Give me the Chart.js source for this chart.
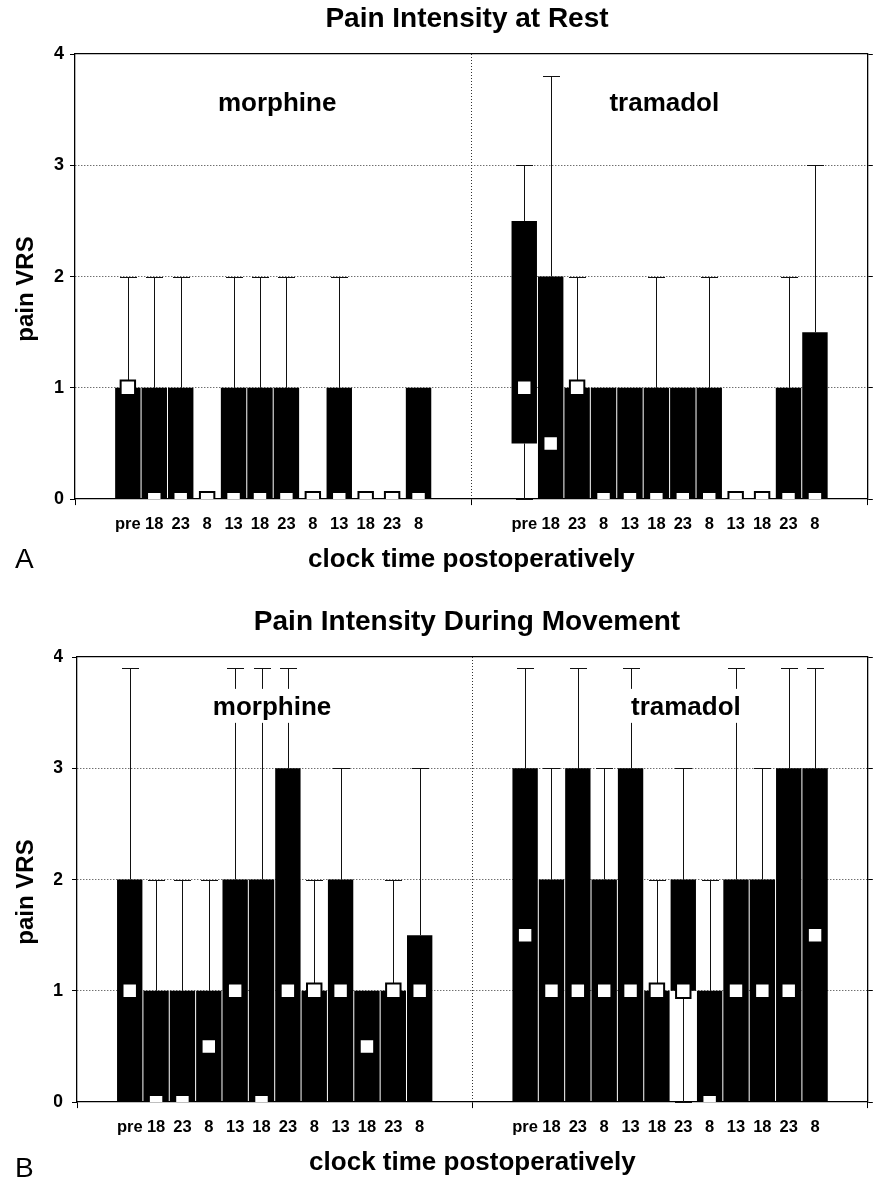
<!DOCTYPE html>
<html>
<head>
<meta charset="utf-8">
<script src="https://cdn.jsdelivr.net/npm/chart.js@4.4.0/dist/chart.umd.min.js"></script>
<style>
html, body { margin: 0; padding: 0; background: #fff; }
.panel { width: 880px; height: 590px; position: relative; }
canvas { display: block; }
</style>
</head>
<body>
<div class="panel"><canvas id="chartA" width="880" height="590"></canvas></div>
<div class="panel"><canvas id="chartB" width="880" height="590"></canvas></div>
<script>
// ---------------- data ----------------
const timeLabels = ['pre', '18', '23', '8', '13', '18', '23', '8', '13', '18', '23', '8'];
const groupNames = ['morphine', 'tramadol'];
const yTickLabels = ['0', '1', '2', '3', '4'];

// Panel A: pain intensity at rest (box = q1..q3, whisker = min..max, square = median)
const restMorphineQ1     = [0, 0, 0, 0, 0, 0, 0, 0, 0, 0, 0, 0];
const restMorphineQ3     = [1, 1, 1, 0, 1, 1, 1, 0, 1, 0, 0, 1];
const restMorphineMedian = [1, 0, 0, 0, 0, 0, 0, 0, 0, 0, 0, 0];
const restMorphineMax    = [2, 2, 2, 0, 2, 2, 2, 0, 2, 0, 0, 1];
const restMorphineMin    = [0, 0, 0, 0, 0, 0, 0, 0, 0, 0, 0, 0];

const restTramadolQ1     = [0.5, 0, 0, 0, 0, 0, 0, 0, 0, 0, 0, 0];
const restTramadolQ3     = [2.5, 2, 1, 1, 1, 1, 1, 1, 0, 0, 1, 1.5];
const restTramadolMedian = [1, 0.5, 1, 0, 0, 0, 0, 0, 0, 0, 0, 0];
const restTramadolMax    = [3, 3.8, 2, 1, 1, 2, 1, 2, 0, 0, 2, 3];
const restTramadolMin    = [0, 0, 0, 0, 0, 0, 0, 0, 0, 0, 0, 0];

// Panel B: pain intensity during movement
const moveMorphineQ1     = [0, 0, 0, 0, 0, 0, 0, 0, 0, 0, 0, 0];
const moveMorphineQ3     = [2, 1, 1, 1, 2, 2, 3, 1, 2, 1, 1, 1.5];
const moveMorphineMedian = [1, 0, 0, 0.5, 1, 0, 1, 1, 1, 0.5, 1, 1];
const moveMorphineMax    = [3.9, 2, 2, 2, 3.9, 3.9, 3.9, 2, 3, 1, 2, 3];
const moveMorphineMin    = [0, 0, 0, 0, 0, 0, 0, 0, 0, 0, 0, 0];

const moveTramadolQ1     = [0, 0, 0, 0, 0, 0, 1, 0, 0, 0, 0, 0];
const moveTramadolQ3     = [3, 2, 3, 2, 3, 1, 2, 1, 2, 2, 3, 3];
const moveTramadolMedian = [1.5, 1, 1, 1, 1, 1, 1, 0, 1, 1, 1, 1.5];
const moveTramadolMax    = [3.9, 3, 3.9, 3, 3.9, 2, 3, 2, 3.9, 3, 3.9, 3.9];
const moveTramadolMin    = [0, 0, 0, 0, 0, 0, 0, 0, 0, 0, 0, 0];

// ---------------- layout helpers ----------------
const SANS = "'Liberation Sans', Arial, Helvetica, sans-serif";
const SLOTS_PER_GROUP = 15;
const LEAD_SLOTS = 2;
const slotOf = (g, i) => g * SLOTS_PER_GROUP + LEAD_SLOTS + i;
const TOTAL_SLOTS = SLOTS_PER_GROUP * 2;

function labelForSlot(v) {
  for (let g = 0; g < 2; g++) {
    const i = v - slotOf(g, 0);
    if (i >= 0 && i < timeLabels.length && Number.isInteger(i)) return timeLabels[i];
  }
  return '';
}

function makeDecorPlugin(groups, d) {
  return {
    id: 'panelDecor',
    beforeDatasetsDraw(chart) {
      const ctx = chart.ctx, x = chart.scales.x, y = chart.scales.y;
      ctx.save();
      ctx.strokeStyle = '#111';
      ctx.lineWidth = 1;
      groups.forEach((grp, g) => {
        grp.q3.forEach((_, i) => {
          const px = Math.round(x.getPixelForValue(slotOf(g, i))) + 0.5;
          const seg = (from, to) => {
            const y1 = y.getPixelForValue(from);
            const y2 = Math.round(y.getPixelForValue(to)) + 0.5;
            ctx.beginPath();
            ctx.moveTo(px, y1); ctx.lineTo(px, y2);
            ctx.moveTo(px - 8.5, y2); ctx.lineTo(px + 8.5, y2);
            ctx.stroke();
          };
          if (grp.max[i] > grp.q3[i]) seg(grp.q3[i], grp.max[i]);
          if (grp.min[i] < grp.q1[i]) seg(grp.q1[i], grp.min[i]);
        });
      });
      ctx.restore();
    },
    afterDatasetsDraw(chart) {
      const ctx = chart.ctx, x = chart.scales.x, y = chart.scales.y;
      ctx.save();
      ctx.font = 'bold 26px ' + SANS;
      ctx.textAlign = 'center';
      ctx.textBaseline = 'alphabetic';
      groupNames.forEach((name, g) => {
        const cx = x.getPixelForValue(d.labelSlots[g]);
        const by = y.getPixelForValue(d.labelValue);
        if (d.knockout) {
          const w = ctx.measureText(name).width;
          ctx.fillStyle = '#fff';
          ctx.fillRect(cx - w / 2 - 3, by - 26, w + 6, 34);
        }
        ctx.fillStyle = '#000';
        ctx.fillText(name, cx, by);
      });
      ctx.restore();
    },
    afterDraw(chart) {
      const ctx = chart.ctx;
      ctx.save();
      ctx.fillStyle = '#000';
      ctx.translate(d.yTitleX, d.yTitleY);
      ctx.rotate(-Math.PI / 2);
      ctx.font = 'bold 24px ' + SANS;
      ctx.textAlign = 'center';
      ctx.textBaseline = 'alphabetic';
      ctx.fillText('pain VRS', 0, 0);
      ctx.restore();
      ctx.save();
      ctx.fillStyle = '#000';
      ctx.font = '28px ' + SANS;
      ctx.textAlign = 'left';
      ctx.textBaseline = 'alphabetic';
      ctx.fillText(d.letter, 15, d.letterY);
      ctx.restore();
    }
  };
}

function buildChart(canvasId, title, groups, d) {
  const bars = [];
  const medians = [];
  groups.forEach((grp, g) => {
    grp.q3.forEach((q3, i) => {
      if (q3 > grp.q1[i]) bars.push({ x: slotOf(g, i), y: [grp.q1[i], q3] });
      medians.push({ x: slotOf(g, i), y: grp.median[i] });
    });
  });

  const transparent = 'rgba(0,0,0,0)';
  return new Chart(document.getElementById(canvasId), {
    type: 'bar',
    data: {
      datasets: [
        {
          type: 'line',
          label: 'median',
          data: medians,
          showLine: false,
          pointStyle: 'rect',
          pointRadius: 10.2,
          pointHoverRadius: 10.2,
          pointBackgroundColor: '#fff',
          pointBorderColor: '#000',
          pointBorderWidth: 2,
          clip: 0,
          order: 0
        },
        {
          type: 'bar',
          label: 'interquartile range',
          data: bars,
          backgroundColor: '#000',
          borderWidth: 0,
          barPercentage: 0.962,
          categoryPercentage: 1,
          order: 1
        }
      ]
    },
    options: {
      responsive: false,
      animation: false,
      events: [],
      layout: { padding: { left: 54, right: 0, top: 0, bottom: d.padBottom } },
      plugins: {
        legend: { display: false },
        tooltip: { enabled: false },
        title: {
          display: true,
          text: title,
          color: '#000',
          font: { family: SANS, size: 28, weight: 'bold' },
          padding: { top: d.titleTop, bottom: d.titleBottom }
        }
      },
      scales: {
        x: {
          type: 'linear',
          position: 'bottom',
          min: 0,
          max: TOTAL_SLOTS,
          offset: false,
          afterBuildTicks: (s) => {
            const t = [];
            for (let k = 0; k <= TOTAL_SLOTS; k++) t.push({ value: k });
            s.ticks = t;
          },
          ticks: {
            autoSkip: false,
            maxRotation: 0,
            minRotation: 0,
            padding: 9.7,
            color: '#000',
            font: { family: SANS, size: 16.5, weight: 'bold' },
            callback: (v) => labelForSlot(v)
          },
          grid: {
            offset: false,
            lineWidth: 1,
            color: (c) => (c.tick && c.tick.value === SLOTS_PER_GROUP) ? '#333' : transparent,
            tickColor: (c) => (c.tick && c.tick.value % SLOTS_PER_GROUP === 0) ? '#000' : transparent,
            tickLength: 6
          },
          border: { display: true, color: '#000', width: 1.3, dash: [1, 2] },
          title: {
            display: true,
            text: 'clock time postoperatively',
            color: '#000',
            font: { family: SANS, size: 26, weight: 'bold' },
            padding: { top: 0.3, bottom: 0 }
          }
        },
        x2: {
          type: 'linear',
          position: 'top',
          min: 0,
          max: TOTAL_SLOTS,
          offset: false,
          ticks: { display: false },
          grid: { offset: false, drawOnChartArea: false, drawTicks: false },
          border: { display: true, color: '#000', width: 1.3 },
          afterFit: (s) => { s.height = 0; }
        },
        y: {
          type: 'linear',
          position: 'left',
          min: 0,
          max: 4,
          afterFit: (s) => { s.width = d.yWidth; },
          ticks: {
            stepSize: 1,
            padding: d.yTickPad,
            color: '#000',
            font: { family: SANS, size: 18, weight: 'bold' },
            callback: (v) => yTickLabels[v] !== undefined ? yTickLabels[v] : ''
          },
          grid: {
            lineWidth: 1,
            color: (c) => (c.tick && c.tick.value > 0 && c.tick.value < 4) ? '#333' : transparent,
            tickColor: '#000',
            tickLength: 5
          },
          border: { display: true, color: '#000', width: 1.3, dash: [1, 2] }
        },
        y2: {
          type: 'linear',
          position: 'right',
          min: 0,
          max: 4,
          afterFit: (s) => { s.width = d.rightWidth; },
          ticks: { display: false, stepSize: 1 },
          grid: { drawOnChartArea: false, tickColor: '#000', tickLength: 5 },
          border: { display: true, color: '#000', width: 1.3 }
        }
      }
    },
    plugins: [makeDecorPlugin(groups, d)]
  });
}

buildChart('chartA', 'Pain Intensity at Rest', [
  { q1: restMorphineQ1, q3: restMorphineQ3, median: restMorphineMedian, max: restMorphineMax, min: restMorphineMin },
  { q1: restTramadolQ1, q3: restTramadolQ3, median: restTramadolMedian, max: restTramadolMax, min: restTramadolMin }
], {
  padBottom: 14.2, titleTop: 2.4, titleBottom: 18, yWidth: 21, yTickPad: 6, rightWidth: 7,
  labelSlots: [7.65, 22.3], labelValue: 3.49, knockout: false,
  yTitleX: 33, yTitleY: 289, letter: 'A', letterY: 568
});

buildChart('chartB', 'Pain Intensity During Movement', [
  { q1: moveMorphineQ1, q3: moveMorphineQ3, median: moveMorphineMedian, max: moveMorphineMax, min: moveMorphineMin },
  { q1: moveTramadolQ1, q3: moveTramadolQ3, median: moveTramadolMedian, max: moveTramadolMax, min: moveTramadolMin }
], {
  padBottom: 1.2, titleTop: 15.4, titleBottom: 18, yWidth: 23, yTickPad: 9, rightWidth: 8,
  labelSlots: [7.4, 23.1], labelValue: 3.48, knockout: true,
  yTitleX: 33, yTitleY: 302, letter: 'B', letterY: 587
});
</script>
</body>
</html>
